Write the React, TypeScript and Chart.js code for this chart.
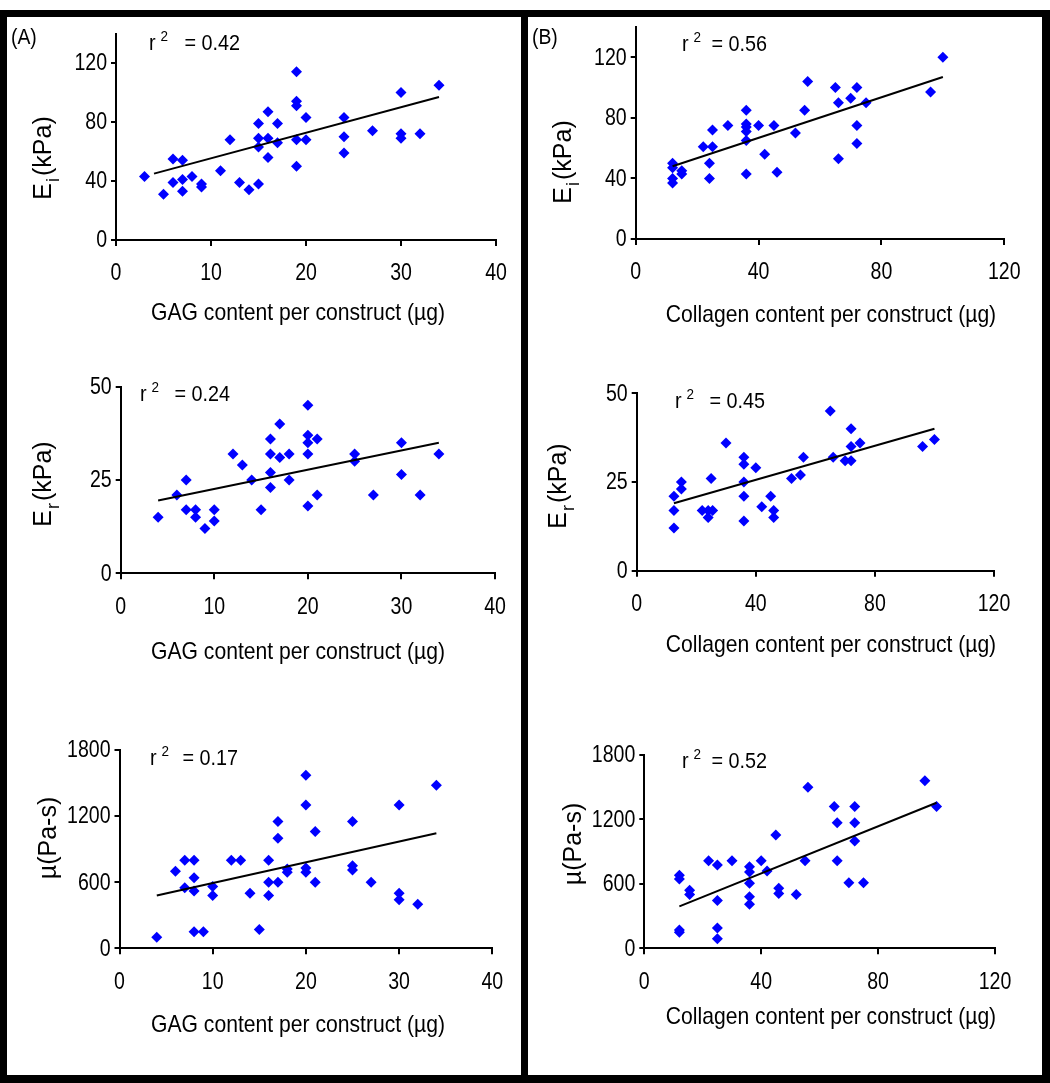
import React, { useEffect, useRef } from 'react';
import { Chart, registerables } from 'chart.js';

Chart.register(...registerables);

const FONT = "'Liberation Sans', Arial, Helvetica, sans-serif";
const BLUE = '#0000ff';

// ---------- data ----------
const gagTicks = [0, 10, 20, 30, 40];
const collagenTicks = [0, 40, 80, 120];
const eiTicks = [0, 40, 80, 120];
const erTicks = [0, 25, 50];
const muTicks = [0, 600, 1200, 1800];

// (A) GAG vs Ei
const gagEiX = [3, 5, 6, 6, 7, 7, 7, 8, 9, 9, 11, 12, 13, 14, 15, 15, 15, 15, 16, 16, 16, 17, 17, 19, 19, 19, 19, 19, 20, 20, 24, 24, 24, 27, 30, 30, 30, 32, 34];
const gagEiY = [43, 31, 55, 39, 54, 41, 33, 43, 38, 36, 47, 68, 39, 34, 38, 63, 69, 79, 87, 69, 56, 79, 66, 114, 94, 91, 68, 50, 83, 68, 83, 70, 59, 74, 100, 72, 69, 72, 105];
const gagEiTrendX = [4, 34];
const gagEiTrendY = [45, 97];

// (B) Collagen vs Ei
const colEiX = [12, 12, 12, 12, 15, 15, 22, 24, 24, 25, 25, 30, 36, 36, 36, 36, 36, 36, 40, 42, 45, 46, 52, 55, 56, 65, 66, 66, 70, 72, 72, 72, 75, 96, 100];
const colEiY = [50, 47, 40, 37, 45, 43, 61, 50, 40, 72, 61, 75, 85, 76, 74, 71, 65, 43, 75, 56, 75, 44, 70, 85, 104, 100, 90, 53, 93, 100, 75, 63, 90, 97, 120];
const colEiTrendX = [12, 100];
const colEiTrendY = [48, 107];

// (A) GAG vs Er
const gagErX = [4, 6, 7, 7, 8, 8, 9, 10, 10, 12, 13, 14, 15, 16, 16, 16, 16, 17, 17, 18, 18, 20, 20, 20, 20, 20, 21, 21, 25, 25, 27, 30, 30, 32, 34];
const gagErY = [15, 21, 25, 17, 17, 15, 12, 17, 14, 32, 29, 25, 17, 36, 32, 27, 23, 40, 31, 32, 25, 45, 37, 35, 32, 18, 36, 21, 32, 30, 21, 35, 26.5, 21, 32];
const gagErTrendX = [4, 34];
const gagErTrendY = [19.5, 35];

// (B) Collagen vs Er
const colErX = [12.5, 12.5, 12.5, 15, 15, 22, 24, 24, 25.5, 25, 30, 36, 36, 36, 36, 36, 40, 42, 45, 46, 46, 52, 55, 56, 65, 66, 70, 72, 72, 72, 75, 96, 100];
const colErY = [21, 17, 12, 25, 23, 17, 17, 15, 17, 26, 36, 32, 30, 25, 21, 14, 29, 18, 21, 17, 15, 26, 27, 32, 45, 32, 31, 31, 40, 35, 36, 35, 37];
const colErTrendX = [12.5, 100];
const colErTrendY = [19, 40];

// (A) GAG vs mu
const gagMuX = [4, 6, 7, 7, 8, 8, 8, 8, 9, 10, 10, 12, 13, 14, 15, 16, 16, 16, 17, 17, 17, 18, 18, 20, 20, 20, 20, 21, 21, 25, 25, 25, 27, 30, 30, 30, 32, 34];
const gagMuY = [100, 700, 800, 550, 800, 640, 520, 150, 150, 560, 480, 800, 800, 500, 170, 800, 600, 480, 1150, 1000, 600, 720, 690, 1570, 1300, 730, 690, 1060, 600, 1150, 750, 710, 600, 1300, 500, 440, 400, 1480];
const gagMuTrendX = [4, 34];
const gagMuTrendY = [480, 1045];

// (B) Collagen vs mu
const colMuX = [12, 12, 12, 12, 15.5, 15.5, 22, 25, 25, 25, 25, 30, 36, 36, 36, 36, 36, 40, 42, 45, 46, 46, 52, 55, 56, 65, 66, 66, 70, 72, 72, 72, 75, 96, 100];
const colMuY = [680, 645, 170, 150, 540, 500, 815, 775, 445, 190, 90, 815, 760, 710, 605, 480, 410, 815, 720, 1055, 560, 510, 500, 815, 1500, 1320, 1170, 815, 610, 1320, 1170, 1000, 610, 1560, 1320];
const colMuTrendX = [12, 100];
const colMuTrendY = [390, 1355];

const gagTitle = 'GAG content per construct (\u00b5g)';
const colTitle = 'Collagen content per construct (\u00b5g)';

// ---------- layout ----------
const Y_W = 70;
const X_H = 50;

type Box = { x: number; y: number; w: number; h: number };
type Area = { left: number; top: number; right: number; bottom: number };
type Spec = {
  cell: Box;
  area: Area;
  xs: number[];
  ys: number[];
  tx: number[];
  ty: number[];
  xMax: number;
  yMax: number;
  xTicks: number[];
  yTicks: number[];
  xTitle: string;
  xTitlePos: [number, number];
  yMain: string;
  ySub: string;
  yRest: string;
  yTitlePos: [number, number];
  r2: string;
  r2Pos: [number, number, number];
};

const colL = { x: 7, w: 514 };
const colR = { x: 528, w: 514 };
const row1 = { y: 17, h: 323 };
const row2 = { y: 340, h: 360 };
const row3 = { y: 700, h: 375 };

const specs: Spec[] = [
  {
    cell: { x: colL.x, y: row1.y, w: colL.w, h: row1.h },
    area: { left: 116, top: 33.5, right: 496, bottom: 240 },
    xs: gagEiX, ys: gagEiY, tx: gagEiTrendX, ty: gagEiTrendY,
    xMax: 40, yMax: 140, xTicks: gagTicks, yTicks: eiTicks,
    xTitle: gagTitle, xTitlePos: [298, 313],
    yMain: 'E', ySub: 'i', yRest: '(kPa)', yTitlePos: [42, 158],
    r2: '= 0.42', r2Pos: [149, 240, 42],
  },
  {
    cell: { x: colR.x, y: row1.y, w: colR.w, h: row1.h },
    area: { left: 635.7, top: 27, right: 1004.3, bottom: 239 },
    xs: colEiX, ys: colEiY, tx: colEiTrendX, ty: colEiTrendY,
    xMax: 120, yMax: 140, xTicks: collagenTicks, yTicks: eiTicks,
    xTitle: colTitle, xTitlePos: [831, 315],
    yMain: 'E', ySub: 'i', yRest: '(kPa)', yTitlePos: [562, 162],
    r2: '= 0.56', r2Pos: [682, 767, 43],
  },
  {
    cell: { x: colL.x, y: row2.y, w: colL.w, h: row2.h },
    area: { left: 120.7, top: 386.7, right: 495, bottom: 573.3 },
    xs: gagErX, ys: gagErY, tx: gagErTrendX, ty: gagErTrendY,
    xMax: 40, yMax: 50, xTicks: gagTicks, yTicks: erTicks,
    xTitle: gagTitle, xTitlePos: [298, 652],
    yMain: 'E', ySub: 'r', yRest: '(kPa)', yTitlePos: [42, 484],
    r2: '= 0.24', r2Pos: [140, 230, 393],
  },
  {
    cell: { x: colR.x, y: row2.y, w: colR.w, h: row2.h },
    area: { left: 636.7, top: 393.3, right: 994, bottom: 570.7 },
    xs: colErX, ys: colErY, tx: colErTrendX, ty: colErTrendY,
    xMax: 120, yMax: 50, xTicks: collagenTicks, yTicks: erTicks,
    xTitle: colTitle, xTitlePos: [831, 645],
    yMain: 'E', ySub: 'r', yRest: '(kPa)', yTitlePos: [557, 486],
    r2: '= 0.45', r2Pos: [675, 765, 400],
  },
  {
    cell: { x: colL.x, y: row3.y, w: colL.w, h: row3.h },
    area: { left: 119.5, top: 750, right: 492.3, bottom: 948.3 },
    xs: gagMuX, ys: gagMuY, tx: gagMuTrendX, ty: gagMuTrendY,
    xMax: 40, yMax: 1800, xTicks: gagTicks, yTicks: muTicks,
    xTitle: gagTitle, xTitlePos: [298, 1025],
    yMain: '\u00b5(Pa-s)', ySub: '', yRest: '', yTitlePos: [47, 838],
    r2: '= 0.17', r2Pos: [150, 238, 757],
  },
  {
    cell: { x: colR.x, y: row3.y, w: colR.w, h: row3.h },
    area: { left: 644.3, top: 755, right: 995, bottom: 948.3 },
    xs: colMuX, ys: colMuY, tx: colMuTrendX, ty: colMuTrendY,
    xMax: 120, yMax: 1800, xTicks: collagenTicks, yTicks: muTicks,
    xTitle: colTitle, xTitlePos: [831, 1017],
    yMain: '\u00b5(Pa-s)', ySub: '', yRest: '', yTitlePos: [572, 844],
    r2: '= 0.52', r2Pos: [682, 767, 760],
  },
];

const TICK_SIZE = 23;
const TICK_SX = 0.85;
const TITLE_SIZE = 24;
const TITLE_SX = 0.88;
const YTITLE_SIZE = 25;
const R2_SIZE = 22;
const R2_SX = 0.9;

function scaledText(
  ctx: CanvasRenderingContext2D,
  text: string,
  x: number,
  y: number,
  align: CanvasTextAlign,
  sx: number
) {
  ctx.save();
  ctx.translate(x, y);
  ctx.scale(sx, 1);
  ctx.textAlign = align;
  ctx.fillText(text, 0, 0);
  ctx.restore();
}

const textPlugin = {
  id: 'figText',
  afterDraw(chart: any, _args: any, o: any) {
    const s: Spec = o.spec;
    const ox = s.cell.x;
    const oy = s.cell.y;
    const ctx = chart.ctx as CanvasRenderingContext2D;
    const area = chart.chartArea;
    const xs = chart.scales.x;
    const ys = chart.scales.y;
    ctx.save();
    ctx.fillStyle = '#000';

    // tick labels
    ctx.font = `${TICK_SIZE}px ${FONT}`;
    ctx.textBaseline = 'middle';
    s.xTicks.forEach((v) => {
      scaledText(ctx, String(v), xs.getPixelForValue(v), area.bottom + 34, 'center', TICK_SX);
    });
    s.yTicks.forEach((v) => {
      scaledText(ctx, String(v), area.left - 9, ys.getPixelForValue(v) + 1, 'right', TICK_SX);
    });

    // x title
    ctx.font = `${TITLE_SIZE}px ${FONT}`;
    ctx.textBaseline = 'middle';
    scaledText(ctx, s.xTitle, s.xTitlePos[0] - ox, s.xTitlePos[1] - oy, 'center', TITLE_SX);

    // y title (rotated)
    ctx.save();
    ctx.translate(s.yTitlePos[0] - ox, s.yTitlePos[1] - oy);
    ctx.rotate(-Math.PI / 2);
    const big = `${YTITLE_SIZE}px ${FONT}`;
    const small = `${Math.round(YTITLE_SIZE * 0.72)}px ${FONT}`;
    ctx.font = big;
    const w1 = ctx.measureText(s.yMain).width;
    const w3 = s.yRest ? ctx.measureText(s.yRest).width : 0;
    ctx.font = small;
    const w2 = s.ySub ? ctx.measureText(s.ySub).width + 3 : 0;
    let x = -(w1 + w2 + w3) / 2;
    const base = YTITLE_SIZE * 0.36;
    ctx.textAlign = 'left';
    ctx.textBaseline = 'alphabetic';
    ctx.font = big;
    ctx.fillText(s.yMain, x, base);
    x += w1;
    if (s.ySub) {
      ctx.font = small;
      ctx.fillText(s.ySub, x + 1, base + YTITLE_SIZE * 0.3);
      x += w2;
    }
    if (s.yRest) {
      ctx.font = big;
      ctx.fillText(s.yRest, x, base);
    }
    ctx.restore();

    // r^2 annotation
    const [rx, rEnd, ry] = s.r2Pos;
    const rBase = ry - oy + R2_SIZE * 0.36;
    ctx.textBaseline = 'alphabetic';
    ctx.font = `${R2_SIZE}px ${FONT}`;
    const wr = ctx.measureText('r').width * R2_SX;
    scaledText(ctx, 'r', rx - ox, rBase, 'left', R2_SX);
    ctx.font = `${Math.round(R2_SIZE * 0.68)}px ${FONT}`;
    scaledText(ctx, '2', rx - ox + wr + 5, rBase - R2_SIZE * 0.4, 'left', R2_SX);
    ctx.font = `${R2_SIZE}px ${FONT}`;
    scaledText(ctx, s.r2, rEnd - ox, rBase, 'right', R2_SX);

    ctx.restore();
  },
};

function axisOptions(max: number, tickValues: number[], horizontal: boolean) {
  return {
    type: 'linear',
    min: 0,
    max,
    afterFit: (sc: any) => {
      if (horizontal) sc.height = X_H;
      else sc.width = Y_W;
    },
    afterBuildTicks: (sc: any) => {
      sc.ticks = tickValues.map((v) => ({ value: v }));
    },
    grid: {
      drawOnChartArea: false,
      drawTicks: true,
      tickLength: horizontal ? 6 : 5,
      color: '#000',
      lineWidth: 2,
    },
    border: { display: true, color: '#000', width: 2 },
    ticks: {
      display: false,
      maxRotation: 0,
      autoSkip: false,
    },
  };
}

function buildConfig(s: Spec): any {
  const padding = {
    left: s.area.left - s.cell.x - Y_W,
    top: s.area.top - s.cell.y,
    right: s.cell.x + s.cell.w - s.area.right,
    bottom: s.cell.y + s.cell.h - s.area.bottom - X_H,
  };
  return {
    type: 'scatter',
    data: {
      datasets: [
        {
          data: s.tx.map((x, i) => ({ x, y: s.ty[i] })),
          showLine: true,
          borderColor: '#000',
          borderWidth: 2,
          pointRadius: 0,
          fill: false,
          order: 0,
        },
        {
          data: s.xs.map((x, i) => ({ x, y: s.ys[i] })),
          pointStyle: 'rectRot',
          pointRadius: 5.5,
          backgroundColor: BLUE,
          borderColor: BLUE,
          borderWidth: 0,
          order: 1,
        },
      ],
    },
    options: {
      responsive: false,
      animation: false,
      devicePixelRatio: 1,
      layout: { padding },
      plugins: {
        legend: { display: false },
        tooltip: { enabled: false },
        figText: { spec: s },
      },
      scales: {
        x: axisOptions(s.xMax, s.xTicks, true),
        y: axisOptions(s.yMax, s.yTicks, false),
      },
    },
    plugins: [textPlugin],
  };
}

function ScatterPanel({ spec }: { spec: Spec }) {
  const ref = useRef<HTMLCanvasElement>(null);
  useEffect(() => {
    const c = ref.current;
    if (!c) return;
    const chart = new Chart(c, buildConfig(spec));
    return () => chart.destroy();
  }, [spec]);
  return (
    <canvas
      ref={ref}
      width={spec.cell.w}
      height={spec.cell.h}
      style={{
        position: 'absolute',
        left: spec.cell.x,
        top: spec.cell.y,
        width: spec.cell.w,
        height: spec.cell.h,
      }}
    />
  );
}

const panelLabelStyle: React.CSSProperties = {
  position: 'absolute',
  fontFamily: FONT,
  fontSize: 22,
  lineHeight: '22px',
  color: '#000',
  transform: 'scaleX(0.88)',
  transformOrigin: 'left top',
};

export default function App() {
  return (
    <div
      style={{
        position: 'absolute',
        left: 0,
        top: 0,
        width: 1050,
        height: 1083,
        background: '#fff',
        overflow: 'hidden',
      }}
    >
      <div style={{ position: 'absolute', left: 0, top: 10, width: 1050, height: 1073, background: '#000' }} />
      <div style={{ position: 'absolute', left: colL.x, top: 17, width: colL.w, height: 1058, background: '#fff' }} />
      <div style={{ position: 'absolute', left: colR.x, top: 17, width: colR.w, height: 1058, background: '#fff' }} />
      {specs.map((s, i) => (
        <ScatterPanel key={i} spec={s} />
      ))}
      <div style={{ ...panelLabelStyle, left: 11, top: 26 }}>(A)</div>
      <div style={{ ...panelLabelStyle, left: 532, top: 26 }}>(B)</div>
    </div>
  );
}
